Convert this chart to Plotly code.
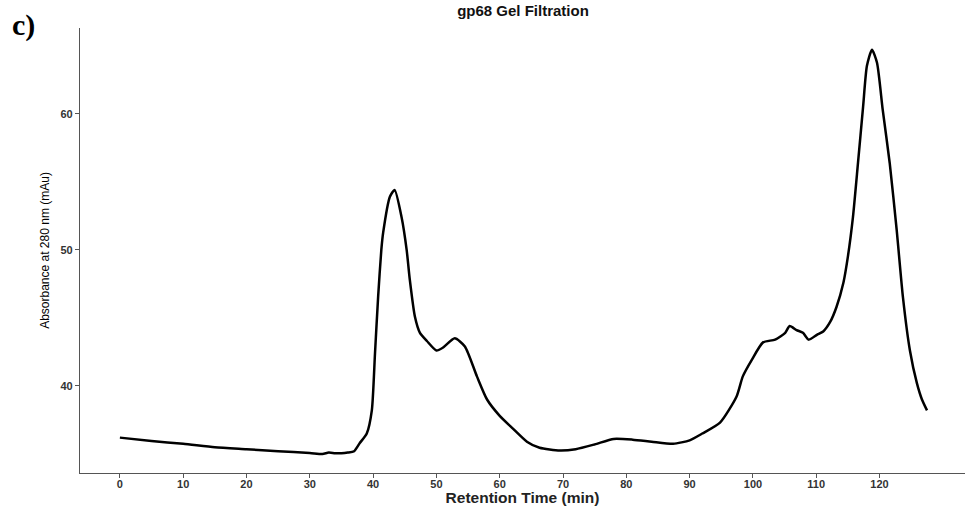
import plotly.graph_objects as go

time_min = [0, 5, 10, 15, 20, 25, 30, 32, 33, 34, 35, 36, 37, 37.9, 39, 39.8, 40.3, 40.8, 41.3, 41.6,
            42.65, 43.4, 44.5, 45.3, 45.8, 46.6, 47.4, 48.5, 50.0, 51.0, 52.9, 54.5, 56.4, 58, 60, 62,
            64.3, 66.3, 69.5, 72, 75, 78, 81, 84, 87.4, 90, 92, 94.8, 97.4, 98.4, 99.8, 101.6, 103.5,
            105.1, 105.8, 106.9, 107.9, 108.8, 110.1, 111.1, 112.2, 113.2, 114.3, 115, 115.8, 116.6,
            117.4, 118, 118.8, 119.6, 120.5, 121.6, 122.7, 123.7, 124.8, 125.9, 126.7, 127.5]
absorbance = [36.2, 35.95, 35.75, 35.5, 35.35, 35.2, 35.07, 35.0, 35.1, 35.05, 35.05, 35.1, 35.2, 35.8,
              36.5, 38.2, 42.4, 46.6, 50.0, 51.3, 53.9, 54.4, 52.4, 50.0, 47.8, 45.1, 43.9, 43.3, 42.6,
              42.8, 43.5, 42.9, 40.7, 39.0, 37.8, 36.9, 35.9, 35.45, 35.25, 35.35, 35.7, 36.1, 36.05,
              35.9, 35.75, 36.0, 36.5, 37.3, 39.2, 40.7, 41.9, 43.2, 43.4, 43.9, 44.4, 44.1, 43.9, 43.4,
              43.75, 44.0, 44.7, 45.8, 47.6, 49.5, 52.4, 56.4, 60.5, 63.5, 64.7, 63.75, 60.3, 56.4,
              51.5, 46.5, 42.6, 40.2, 39.0, 38.2]

x_ticks = [0, 10, 20, 30, 40, 50, 60, 70, 80, 90, 100, 110, 120]
y_ticks = [40, 50, 60]

fig = go.Figure()
fig.add_trace(go.Scatter(
    x=time_min, y=absorbance, mode="lines",
    line=dict(color="black", width=2.5, shape="spline", smoothing=0.6),
    showlegend=False, hoverinfo="skip"))

tickfont = dict(family="Liberation Sans, Arial, sans-serif", size=11, color="#333333")

fig.update_layout(
    width=965, height=506,
    margin=dict(l=80, r=0, t=28, b=33),
    paper_bgcolor="white", plot_bgcolor="white",
    title=dict(text="<b>gp68 Gel Filtration</b>", x=0.542, xanchor="center", y=0.99, yanchor="top",
               font=dict(family="Liberation Sans, Arial, sans-serif", size=15, color="#111111")),
    xaxis=dict(range=[-6.3, 133.5], tickvals=x_ticks, ticktext=[f"<b>{v}</b>" for v in x_ticks],
               tickfont=tickfont, showgrid=False, zeroline=False,
               showline=True, linecolor="#555555", linewidth=1.2,
               ticks="outside", ticklen=4, tickcolor="#555555", ticklabelstandoff=-3,
               title=dict(text="<b>Retention Time (min)</b>", standoff=0,
                          font=dict(family="Liberation Sans, Arial, sans-serif", size=15.5, color="#222222"))),
    yaxis=dict(range=[33.6, 66.3], tickvals=y_ticks, ticktext=[f"<b>{v}</b>" for v in y_ticks],
               tickfont=tickfont, showgrid=False, zeroline=False,
               showline=True, linecolor="#555555", linewidth=1.2,
               ticks="outside", ticklen=4, tickcolor="#555555",
               title=dict(text="Absorbance at 280 nm (mAu)", standoff=8,
                          font=dict(family="Liberation Sans, Arial, sans-serif",
                                    size=12, color="black"))),
)

fig.add_annotation(text="<b>c)</b>", xref="paper", yref="paper", x=-0.079, y=1.05,
                   xanchor="left", yanchor="top", showarrow=False,
                   font=dict(family="Liberation Serif, Times New Roman, serif", size=30, color="black"))

fig.write_html("out.html")
